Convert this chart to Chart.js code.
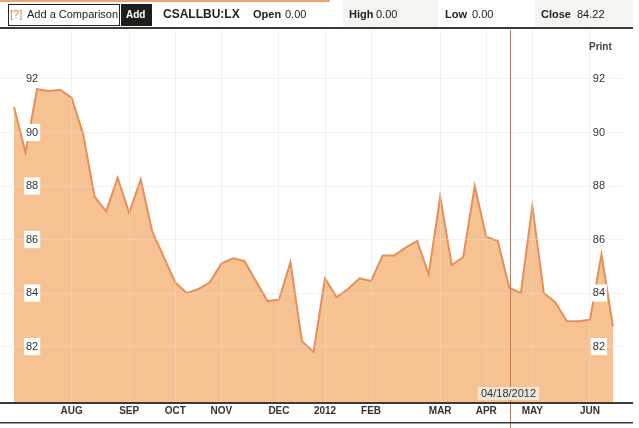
<!DOCTYPE html>
<html>
<head>
<meta charset="utf-8">
<script src="https://cdn.jsdelivr.net/npm/chart.js@4/dist/chart.umd.min.js"></script>
<style>
  html, body { margin: 0; padding: 0; background: #fff; }
  #wrap { position: relative; width: 639px; height: 428px; overflow: hidden; font-family: "Liberation Sans", Arial, sans-serif; color: #222; }
  #chartBox { position: absolute; left: 0; top: 0; width: 639px; height: 428px; }
  .abs { position: absolute; white-space: nowrap; }
  .band { position: absolute; top: 0; height: 27px; background: #f4f4f1; }
  .b { font-weight: bold; }
</style>
</head>
<body>
<div id="wrap">
  <div id="chartBox"><canvas id="c"></canvas></div>
  <div class="abs" style="left:0;top:0;width:330px;height:2px;background:#e9a478;"></div>
  <div class="band" style="left:343px;width:95px;"></div>
  <div class="band" style="left:535px;width:98px;"></div>
  <div class="abs" style="left:8px;top:4px;width:110px;height:20px;border:1px solid #222;background:#fff;"></div>
  <div class="abs" style="left:10px;top:8px;font-size:11px;color:#d08a5a;">[?]</div>
  <div class="abs" style="left:27px;top:8px;font-size:11px;">Add a Comparison</div>
  <div class="abs" style="left:121px;top:4px;width:31px;height:22px;background:#1e1e1a;"></div>
  <div class="abs b" style="left:126px;top:9px;font-size:10px;color:#fff;">Add</div>
  <div class="abs b" style="left:163px;top:7px;font-size:12px;">CSALLBU:LX</div>
  <div class="abs b" style="left:253px;top:8px;font-size:11px;">Open</div>
  <div class="abs" style="left:285px;top:8px;font-size:11px;">0.00</div>
  <div class="abs b" style="left:349px;top:8px;font-size:11px;">High</div>
  <div class="abs" style="left:376px;top:8px;font-size:11px;">0.00</div>
  <div class="abs b" style="left:445px;top:8px;font-size:11px;">Low</div>
  <div class="abs" style="left:472px;top:8px;font-size:11px;">0.00</div>
  <div class="abs b" style="left:541px;top:8px;font-size:11px;">Close</div>
  <div class="abs" style="left:577px;top:8px;font-size:11px;">84.22</div>
  <div class="abs" style="left:0;top:27px;width:633px;height:2px;background:#3a3a3a;"></div>
  <div class="abs b" style="left:589px;top:41px;font-size:10px;color:#444;">Print</div>
</div>
<script>
// ---- data (weekly closes) ----
const values = [
  90.95, 89.25, 91.62, 91.55, 91.6, 91.3, 89.95, 87.6, 87.05, 88.3,
  87.0, 88.25, 86.3, 85.35, 84.4, 84.0, 84.15, 84.4, 85.1, 85.3,
  85.2, 84.45, 83.7, 83.75, 85.15, 82.2, 81.8, 84.55, 83.85, 84.15,
  84.55, 84.45, 85.4, 85.4, 85.7, 85.95, 84.7, 87.6, 85.05, 85.35,
  88.0, 86.1, 85.95, 84.2, 84.0, 87.25, 84.0, 83.65, 82.95, 82.95,
  83.0, 85.45, 82.75
];
const monthLabels = ['AUG','SEP','OCT','NOV','DEC','2012','FEB','MAR','APR','MAY','JUN'];
const monthIndex  = [5, 10, 14, 18, 23, 27, 31, 37, 41, 45, 50];
const yTicks = [82, 84, 86, 88, 90, 92];
const markerIndex = 43.05;
const markerLabel = '04/18/2012';

const points = values.map((v, i) => ({ x: i, y: v }));

const markerPlugin = {
  id: 'marker',
  afterDraw(chart) {
    const { ctx, chartArea, scales } = chart;
    const x = Math.round(scales.x.getPixelForValue(markerIndex)) + 0.5;
    ctx.save();
    ctx.strokeStyle = '#c8784c';
    ctx.lineWidth = 1;
    ctx.beginPath();
    ctx.moveTo(x, chartArea.top);
    ctx.lineTo(x, chart.height);
    ctx.stroke();
    // label box
    ctx.font = '11px "Liberation Sans", Arial, sans-serif';
    const w = ctx.measureText(markerLabel).width + 6;
    const bx = x - 2 - w / 2;
    const by = chartArea.bottom - 15;
    ctx.fillStyle = '#efe6d8';
    ctx.fillRect(bx, by, w, 13);
    ctx.fillStyle = '#333';
    ctx.textAlign = 'center';
    ctx.textBaseline = 'middle';
    ctx.fillText(markerLabel, x - 2, by + 7);
    // bottom rules
    ctx.fillStyle = '#3a3a3a';
    ctx.fillRect(0, chartArea.bottom, 633, 2);
    ctx.fillRect(0, chartArea.bottom + 20, 633, 1.5);
    ctx.restore();
  }
};

const gridColor = 'rgba(228,222,216,0.45)';
const yFilter = (axis) => { axis.ticks = yTicks.map(v => ({ value: v })); };
const yFit = (axis) => { axis.width = 0; axis.paddingTop = 0; axis.paddingBottom = 0; };

new Chart(document.getElementById('c'), {
  type: 'line',
  data: {
    datasets: [{
      data: points,
      borderColor: '#e68f58',
      backgroundColor: '#f7c292',
      borderWidth: 2,
      fill: 'start',
      tension: 0,
      pointRadius: 0,
      pointHoverRadius: 0
    }]
  },
  options: {
    responsive: true,
    maintainAspectRatio: false,
    devicePixelRatio: 1,
    animation: false,
    events: [],
    layout: { padding: { top: 30, left: 0, right: 16, bottom: 5 } },
    plugins: { legend: { display: false }, tooltip: { enabled: false } },
    scales: {
      x: {
        type: 'linear',
        min: -1.2154,
        max: 52.87,
        afterBuildTicks: (axis) => { axis.ticks = monthIndex.map(v => ({ value: v })); },
        afterFit: (axis) => { axis.height = 21; axis.paddingLeft = 0; axis.paddingRight = 0; },
        ticks: {
          z: 1,
          autoSkip: false,
          maxRotation: 0,
          padding: 3,
          color: '#333',
          font: { family: '"Liberation Sans", Arial, sans-serif', size: 10, weight: 'bold' },
          callback: (val) => monthLabels[monthIndex.indexOf(val)]
        },
        grid: { z: 1, color: gridColor, drawTicks: false },
        border: { display: false }
      },
      y: {
        position: 'left',
        min: 79.93,
        max: 93.83,
        afterBuildTicks: yFilter,
        afterFit: yFit,
        ticks: {
          z: 2,
          mirror: true,
          padding: 26,
          color: '#333',
          font: { family: '"Liberation Sans", Arial, sans-serif', size: 11 },
          showLabelBackdrop: true,
          backdropColor: '#ffffff',
          backdropPadding: { x: 2, y: 2 }
        },
        grid: { z: 1, color: gridColor, drawTicks: false },
        border: { display: false }
      },
      y2: {
        position: 'right',
        min: 79.93,
        max: 93.83,
        afterBuildTicks: yFilter,
        afterFit: yFit,
        ticks: {
          z: 2,
          mirror: true,
          padding: -18,
          color: '#333',
          font: { family: '"Liberation Sans", Arial, sans-serif', size: 11 },
          showLabelBackdrop: true,
          backdropColor: '#ffffff',
          backdropPadding: { x: 2, y: 2 }
        },
        grid: { display: false, drawTicks: false },
        border: { display: false }
      }
    }
  },
  plugins: [markerPlugin]
});
</script>
</body>
</html>
